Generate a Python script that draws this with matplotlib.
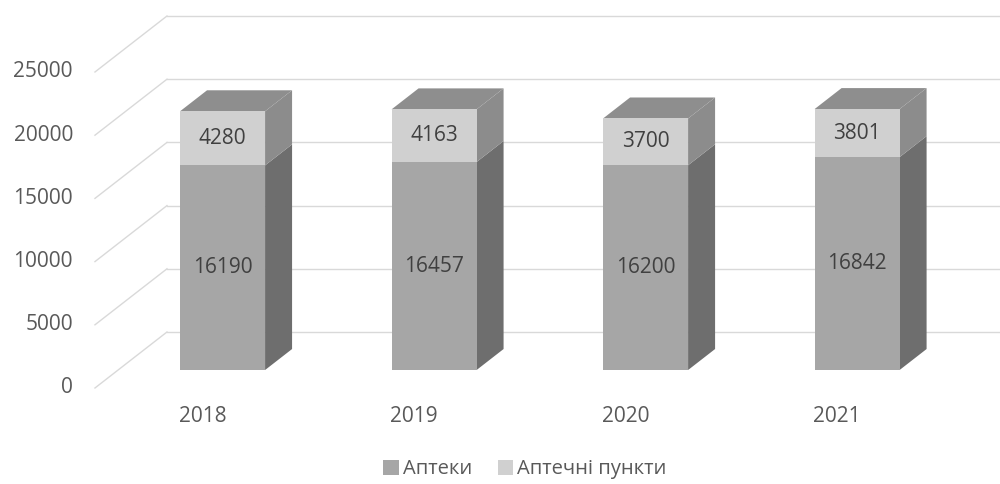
import matplotlib
matplotlib.use("Agg")
import matplotlib.pyplot as plt
from matplotlib.patches import Polygon, Patch

plt.rcParams['font.family'] = ['Open Sans', 'DejaVu Sans']

# data
years = ['2018', '2019', '2020', '2021']
apteky = [16190, 16457, 16200, 16842]          # Аптеки
punkty = [4280, 4163, 3700, 3801]              # Аптечні пункти
series_names = ['Аптеки', 'Аптечні пункти']
y_ticks = [0, 5000, 10000, 15000, 20000, 25000]

# colours: front, side, top
front_cols = ['#a6a6a6', '#d0d0d0']
side_cols = ['#6e6e6e', '#8c8c8c']
top_col = '#8e8e8e'
grid_col = '#d9d9d9'
text_col = '#595959'
label_col = '#404040'

# fake 3d projection (offset for full depth, in data units)
DX = 0.3404
DV = 4430
Z_FRONT = 0.321
Z_BACK = 0.696
WIDTH = 0.402
X_MAX = 3.785


def proj(x, v, z):
    return (x + z * DX, v + z * DV)


fig = plt.figure(figsize=(10, 4.84), dpi=100)
ax = fig.add_axes([0, 0, 1, 1])
ax.set_xlim(-0.943, X_MAX)
ax.set_ylim(-7595, 30696)
ax.axis('off')

# walls / gridlines
x_left = -0.494
for v in y_ticks:
    p0 = proj(x_left, v, 0)
    p1 = proj(x_left, v, 1)
    ax.plot([p0[0], p1[0]], [p0[1], p1[1]], color=grid_col, lw=1.0, zorder=1)
    ax.plot([p1[0], X_MAX], [p1[1], p1[1]], color=grid_col, lw=1.0, zorder=1)
    ax.text(-0.598, v, str(v), ha='right', va='center', fontsize=15,
            color=text_col)

# bars
for i, year in enumerate(years):
    bottoms = [0, apteky[i]]
    heights = [apteky[i], punkty[i]]
    xl = i - WIDTH / 2
    xr = i + WIDTH / 2
    for k in range(2):
        b = bottoms[k]
        h = heights[k]
        fx, fv = proj(i, b, Z_FRONT)
        ax.bar(fx, h, bottom=fv, width=WIDTH, color=front_cols[k],
               linewidth=0, zorder=3)
        # right side face
        side = [proj(xr, b, Z_FRONT), proj(xr, b, Z_BACK),
                proj(xr, b + h, Z_BACK), proj(xr, b + h, Z_FRONT)]
        ax.add_patch(Polygon(side, closed=True, facecolor=side_cols[k],
                             linewidth=0, zorder=2.5))
        ax.text(fx, fv + h / 2, f'{h}', ha='center', va='center',
                fontsize=15, color=label_col, zorder=5)
    total = apteky[i] + punkty[i]
    top = [proj(xl, total, Z_FRONT), proj(xr, total, Z_FRONT),
           proj(xr, total, Z_BACK), proj(xl, total, Z_BACK)]
    ax.add_patch(Polygon(top, closed=True, facecolor=top_col,
                         linewidth=0, zorder=2.5))
    ax.text(i + 0.015, -2294, year, ha='center', va='center', fontsize=15,
            color=text_col)

handles = [Patch(facecolor=front_cols[k], edgecolor='none') for k in range(2)]
fig.legend(handles, series_names, loc='lower center', ncol=2, frameon=False,
           fontsize=14.5, handlelength=0.75, handleheight=0.75, handletextpad=0.2,
           columnspacing=1.3, bbox_to_anchor=(0.525, -0.028), labelcolor=text_col)

fig.savefig('out.png', dpi=100)
